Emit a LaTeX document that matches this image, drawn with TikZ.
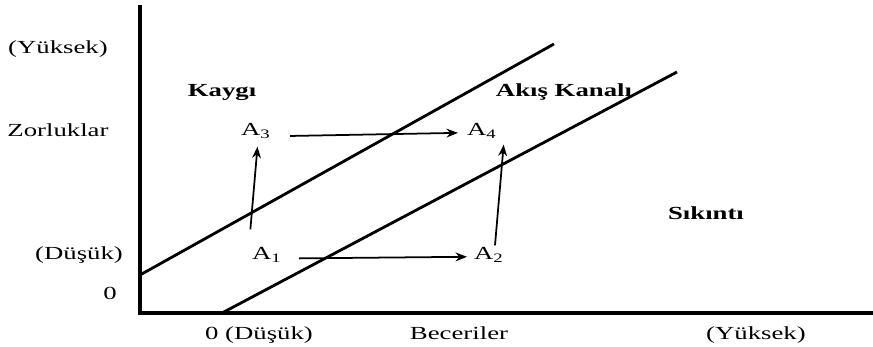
\documentclass[tikz,border=0pt]{standalone}
\usepackage{fontspec}
\setmainfont{Liberation Serif}
\usetikzlibrary{arrows.meta}

\begin{document}
\begin{tikzpicture}
[
	x=0.02cm, y=-0.02cm,
	lbl/.style={font=\fontsize{10.5}{12}\selectfont,xscale=1.45,inner sep=1pt},
	zone/.style={lbl,font=\fontsize{10.5}{12}\selectfont\bfseries},
	axis/.style={line width=2pt},
	chan/.style={line width=1.6pt},
	move/.style={line width=1pt,-{Stealth[length=6.5pt,width=5pt]}}
]

	\useasboundingbox (0,0) rectangle (873,347);

	% axes
	\draw[axis] (140,5) -- (140,313) -- (873,313);

	% channel
	\draw[chan] (140,275) -- (554,44);
	\draw[chan] (222,313) -- (677,72);

	% y labels
	\node[lbl] (yhigh) at (58,49) {(Yüksek)};
	\node[lbl] (ytitle) at (58,130) {Zorluklar};
	\node[lbl] (ylow) at (79,255) {(Düşük)};
	\node[lbl] (yzero) at (110,293) {0};

	% x labels
	\node[lbl,anchor=base] (xlow) at (259,340) {0 (Düşük)};
	\node[lbl,anchor=base] (xtitle) at (459,340) {Beceriler};
	\node[lbl,anchor=base] (xhigh) at (756,340) {(Yüksek)};

	% zones
	\node[zone] (anxiety) at (222,93) {Kaygı};
	\node[zone] (flow) at (564,92) {Akış Kanalı};
	\node[zone] (boredom) at (706,213) {Sıkıntı};

	% states
	\node[lbl] (a1) at (267,255) {A\textsubscript{1}};
	\node[lbl] (a2) at (489,255) {A\textsubscript{2}};
	\node[lbl] (a3) at (256,131) {A\textsubscript{3}};
	\node[lbl] (a4) at (482,131) {A\textsubscript{4}};

	% moves
	\draw[move,shorten <=14*0.02cm,shorten >=4*0.02cm] ([yshift=-2pt]a1.east) -- ([yshift=-1pt]a2.west);
	\draw[move,shorten <=16*0.02cm,shorten >=6*0.02cm] ([yshift=-3pt]a3.east) -- ([yshift=-1pt]a4.west);
	\draw[move,shorten <=16*0.02cm,shorten >=6*0.02cm] ([xshift=-18*0.02cm]a1.north) -- ([xshift=2*0.02cm]a3.south);
	\draw[move,shorten >=4*0.02cm] ([xshift=6*0.02cm]a2.north) -- ([xshift=22*0.02cm]a4.south);

\end{tikzpicture}
\end{document}
